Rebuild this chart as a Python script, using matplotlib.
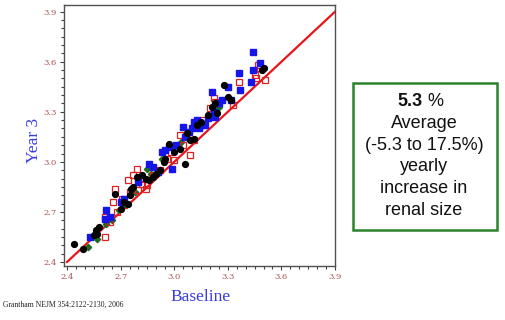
import numpy as np
import matplotlib
matplotlib.use("Agg")
import matplotlib.pyplot as plt
from matplotlib.ticker import MultipleLocator, FormatStrFormatter

# Dati (dimensione renale, baseline vs anno 3)
blue_x = [2.53, 2.61, 2.62, 2.64, 2.70, 2.80, 2.86, 2.88, 2.93, 2.95, 2.97, 2.99,
          3.01, 3.05, 3.06, 3.08, 3.10, 3.11, 3.13, 3.15, 3.17, 3.19, 3.21, 3.23,
          3.25, 3.27, 3.30, 3.32, 3.36, 3.37, 3.43, 3.44, 3.44, 3.48, 2.72, 2.91,
          3.14, 3.22]
blue_y = [2.55, 2.66, 2.71, 2.67, 2.76, 2.88, 2.99, 2.97, 3.06, 3.07, 3.09, 2.96,
          3.10, 3.21, 3.15, 3.18, 3.20, 3.24, 3.25, 3.22, 3.22, 3.26, 3.42, 3.27,
          3.35, 3.37, 3.45, 3.37, 3.53, 3.43, 3.48, 3.55, 3.66, 3.59, 2.78, 2.94,
          3.20, 3.30]

black_x = [2.44, 2.49, 2.55, 2.56, 2.57, 2.58, 2.67, 2.70, 2.72, 2.74, 2.75, 2.76,
           2.77, 2.79, 2.82, 2.84, 2.86, 2.88, 2.90, 2.92, 2.94, 2.95, 2.97, 3.00,
           3.03, 3.06, 3.07, 3.09, 3.11, 3.13, 3.15, 3.19, 3.21, 3.23, 3.24, 3.28,
           3.30, 3.32, 3.49, 3.50]
black_y = [2.51, 2.48, 2.56, 2.59, 2.57, 2.61, 2.81, 2.72, 2.76, 2.75, 2.80, 2.84,
           2.85, 2.91, 2.92, 2.90, 2.89, 2.91, 2.93, 2.95, 3.00, 3.02, 3.11, 3.06,
           3.08, 2.99, 3.17, 3.13, 3.14, 3.22, 3.24, 3.28, 3.33, 3.35, 3.29, 3.46,
           3.39, 3.37, 3.55, 3.56]

red_x = [2.61, 2.61, 2.64, 2.66, 2.67, 2.68, 2.71, 2.74, 2.75, 2.77, 2.79, 2.80,
         2.82, 2.84, 2.85, 2.88, 2.92, 2.96, 3.00, 3.03, 3.05, 3.09, 3.13, 3.16,
         3.20, 3.22, 3.23, 3.33, 3.36, 3.45, 3.46, 3.47, 3.48, 3.51, 2.72, 2.81,
         2.98, 3.11]
red_y = [2.55, 2.67, 2.64, 2.76, 2.84, 2.70, 2.78, 2.89, 2.82, 2.92, 2.96, 2.83,
         2.87, 2.84, 2.86, 2.92, 2.95, 3.02, 3.01, 3.16, 3.10, 3.04, 3.24, 3.25,
         3.32, 3.38, 3.36, 3.34, 3.48, 3.52, 3.50, 3.58, 3.56, 3.49, 2.74, 2.90,
         3.06, 3.13]

green_x = [2.52, 2.57, 2.62, 2.65, 2.69, 2.72, 2.78, 2.85, 2.87, 2.93, 2.97, 3.04,
           3.08, 3.14, 3.23, 3.25]
green_y = [2.49, 2.54, 2.63, 2.65, 2.71, 2.74, 2.82, 2.96, 2.93, 3.02, 3.09, 3.12,
           3.17, 3.21, 3.31, 3.33]

# Linea di identita'
identity = [2.4, 3.9]
ticks = [2.4, 2.7, 3.0, 3.3, 3.6, 3.9]

box_lines = ["Average", "(-5.3 to 17.5%)", "yearly", "increase in", "renal size"]

fig = plt.figure(figsize=(5.05, 3.2), dpi=100)
ax = fig.add_axes([64 / 505, 1 - 266 / 320, (335 - 64) / 505, (266 - 5) / 320])

ax.plot(identity, identity, color="#e8141c", lw=1.6, zorder=1)
ax.plot(green_x, green_y, "D", color="#1f6a1f", ms=3.2, zorder=2)
ax.plot(red_x, red_y, "s", mfc="none", mec="#e02020", mew=0.9, ms=5.0, zorder=3)
ax.plot(blue_x, blue_y, "s", color="#1515e8", ms=3.9, zorder=4)
ax.plot(black_x, black_y, "o", color="black", ms=4.2, zorder=5)

ax.set_xlim(2.383, 3.9)
ax.set_ylim(2.376, 3.94)
ax.set_xticks(ticks)
ax.set_yticks(ticks)
ax.xaxis.set_minor_locator(MultipleLocator(0.05))
ax.yaxis.set_minor_locator(MultipleLocator(0.05))
ax.xaxis.set_major_formatter(FormatStrFormatter("%.1f"))
ax.yaxis.set_major_formatter(FormatStrFormatter("%.1f"))
ax.tick_params(which="both", direction="out", color="#404040", width=0.8,
               labelsize=6, labelcolor="#a85050", labelfontfamily="DejaVu Serif")
ax.tick_params(which="major", length=3.0, pad=2)
ax.tick_params(which="minor", length=2.0)
for s in ax.spines.values():
    s.set_color("#505050")
    s.set_linewidth(1.0)

# Etichette assi
fig.text(34 / 505, 1 - 140 / 320, "Year 3", rotation=90, ha="center", va="center",
         color="#3a3ae0", fontsize=12.5, family="Liberation Serif")
fig.text(201 / 505, 1 - 297 / 320, "Baseline", ha="center", va="center",
         color="#3a3ae0", fontsize=12.5, family="Liberation Serif")
fig.text(3 / 505, 1 - 305 / 320, "Grantham NEJM 354:2122-2130, 2006", ha="left",
         va="center", color="#202020", fontsize=5.5, family="Liberation Serif")

# Riquadro verde
box = plt.Rectangle((353 / 505, 1 - 230 / 320), 144 / 505, 147 / 320,
                    transform=fig.transFigure, fill=False, ec="#2a822a", lw=1.8)
fig.add_artist(box)
cx = 424 / 505
fig.text(cx - 0.002, 1 - 102 / 320, "5.3", ha="right", va="center", fontsize=13,
         weight="bold", family="Liberation Sans", color="#111111")
fig.text(cx - 0.002, 1 - 102 / 320, " %", ha="left", va="center", fontsize=13,
         family="Liberation Sans", color="#111111")
for i, line in enumerate(box_lines):
    fig.text(cx, 1 - (123.5 + i * 21.7) / 320, line, ha="center", va="center",
             fontsize=13, family="Liberation Sans", color="#111111")

fig.savefig("out.png", dpi=100)
